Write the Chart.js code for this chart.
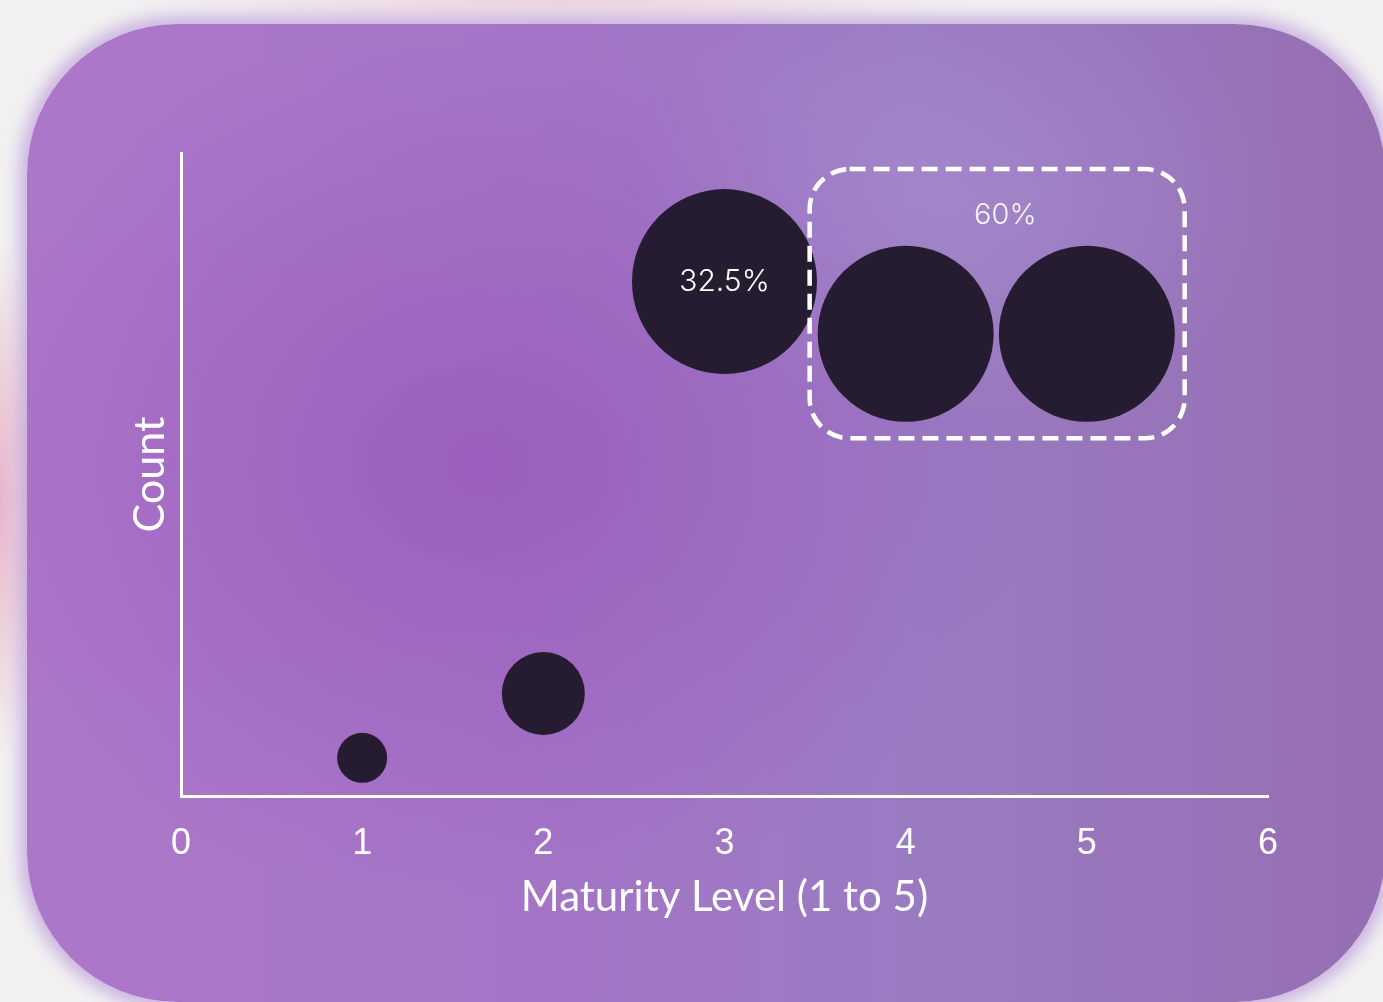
<!DOCTYPE html>
<html>
<head>
<meta charset="utf-8">
<script src="https://cdn.jsdelivr.net/npm/chart.js@4.4.1/dist/chart.umd.min.js"></script>
<style>
  html, body { margin:0; padding:0; width:1383px; height:1002px; overflow:hidden; }
  body {
    background:
      radial-gradient(ellipse 40px 260px at 0px 500px, rgba(232,170,196,0.85), rgba(232,170,196,0) 100%),
      radial-gradient(ellipse 420px 30px at 560px 0px, rgba(236,200,215,0.7), rgba(236,200,215,0) 100%),
      #f2f1f2;
    position: relative;
  }
  #card {
    position:absolute; left:27px; top:24px; width:1358px; height:978px;
    border-radius:150px;
    background:
      radial-gradient(ellipse 330px 230px at 930px 170px, rgba(170,145,210,0.5), rgba(170,145,210,0) 100%),
      radial-gradient(ellipse 560px 440px at 450px 440px, rgba(150,80,185,0.6), rgba(150,80,185,0) 100%),
      linear-gradient(90deg, #ad77c9 0%, #a375c6 40%, #9a7bc2 65%, #966eb2 100%);
    box-shadow: 0 0 16px 8px rgba(170,130,210,0.55);
  }
  #wrap { position:absolute; left:0; top:0; width:1383px; height:1002px; }
</style>
</head>
<body>
<div id="card"></div>
<div id="wrap"><canvas id="c" width="1383" height="1002"></canvas></div>
<script>
// ---- data ----
const maturityLevels = [1, 2, 3, 4, 5];
const countValues = [0.95, 2.55, 12.8, 11.5, 11.5];
const bubbleRadii = [25, 41.5, 92.5, 88, 88];
const bubbleLabels = ['', '', '32.5%', '', ''];
const xTickValues = [0, 1, 2, 3, 4, 5, 6];
const groupBoxX = [3.47, 5.54];
const groupBoxY = [8.9, 15.6];
const groupLabel = '60%';
const groupLabelPos = [4.55, 14.45];
const xTitle = 'Maturity Level (1 to 5)';
const yTitle = 'Count';

const bubbleData = maturityLevels.map((x, i) => ({ x: x, y: countValues[i], r: bubbleRadii[i] }));

const overlayPlugin = {
  id: 'overlay',
  afterDatasetsDraw(chart) {
    const ctx = chart.ctx;
    const xs = chart.scales.x, ys = chart.scales.y;
    const meta = chart.getDatasetMeta(0);
    ctx.save();
    ctx.fillStyle = '#ffffff';
    ctx.font = '300 30px Inter';
    ctx.textAlign = 'center';
    ctx.textBaseline = 'middle';
    meta.data.forEach((el, i) => {
      if (bubbleLabels[i]) ctx.fillText(bubbleLabels[i], el.x, el.y);
    });
    const x1 = xs.getPixelForValue(groupBoxX[0]);
    const x2 = xs.getPixelForValue(groupBoxX[1]);
    const y1 = ys.getPixelForValue(groupBoxY[1]);
    const y2 = ys.getPixelForValue(groupBoxY[0]);
    ctx.strokeStyle = '#ffffff';
    ctx.lineWidth = 4.5;
    ctx.setLineDash([16, 8]);
    ctx.beginPath();
    ctx.roundRect(x1, y1, x2 - x1, y2 - y1, 40);
    ctx.stroke();
    ctx.setLineDash([]);
    ctx.fillStyle = 'rgba(255,255,255,0.9)';
    ctx.font = '300 29px Inter';
    ctx.fillText(groupLabel, xs.getPixelForValue(groupLabelPos[0]), ys.getPixelForValue(groupLabelPos[1]));
    ctx.restore();
  }
};

new Chart(document.getElementById('c'), {
  type: 'bubble',
  data: {
    datasets: [{
      data: bubbleData,
      backgroundColor: '#261c31',
      borderWidth: 0,
      hoverBorderWidth: 0,
      clip: false
    }]
  },
  options: {
    responsive: false,
    animation: false,
    events: [],
    layout: { padding: { left: 0, right: 115, top: 153, bottom: 0 } },
    plugins: { legend: { display: false }, tooltip: { enabled: false } },
    scales: {
      x: {
        type: 'linear',
        min: 0, max: 6,
        afterFit(s) { s.height = 206; },
        afterBuildTicks(s) { s.ticks = xTickValues.map(v => ({ value: v })); },
        grid: { display: true, color: 'rgba(0,0,0,0)', drawTicks: false },
        border: { display: true, color: '#ffffff', width: 3 },
        ticks: { color: '#ffffff', font: { family: 'Liberation Sans', size: 36 }, padding: 26, maxRotation: 0 },
        title: { display: true, text: xTitle, color: '#ffffff', font: { family: 'Lato', size: 42 }, padding: { top: 0, bottom: 79 } }
      },
      y: {
        type: 'linear',
        min: 0, max: 16,
        afterFit(s) { s.width = 181; },
        grid: { display: true, color: 'rgba(0,0,0,0)', drawTicks: false },
        border: { display: true, color: '#ffffff', width: 3 },
        ticks: { display: false },
        title: { display: true, text: yTitle, color: '#ffffff', font: { family: 'Lato', size: 43 }, padding: { top: 124, bottom: 0 } }
      }
    }
  },
  plugins: [overlayPlugin]
});
</script>
</body>
</html>
